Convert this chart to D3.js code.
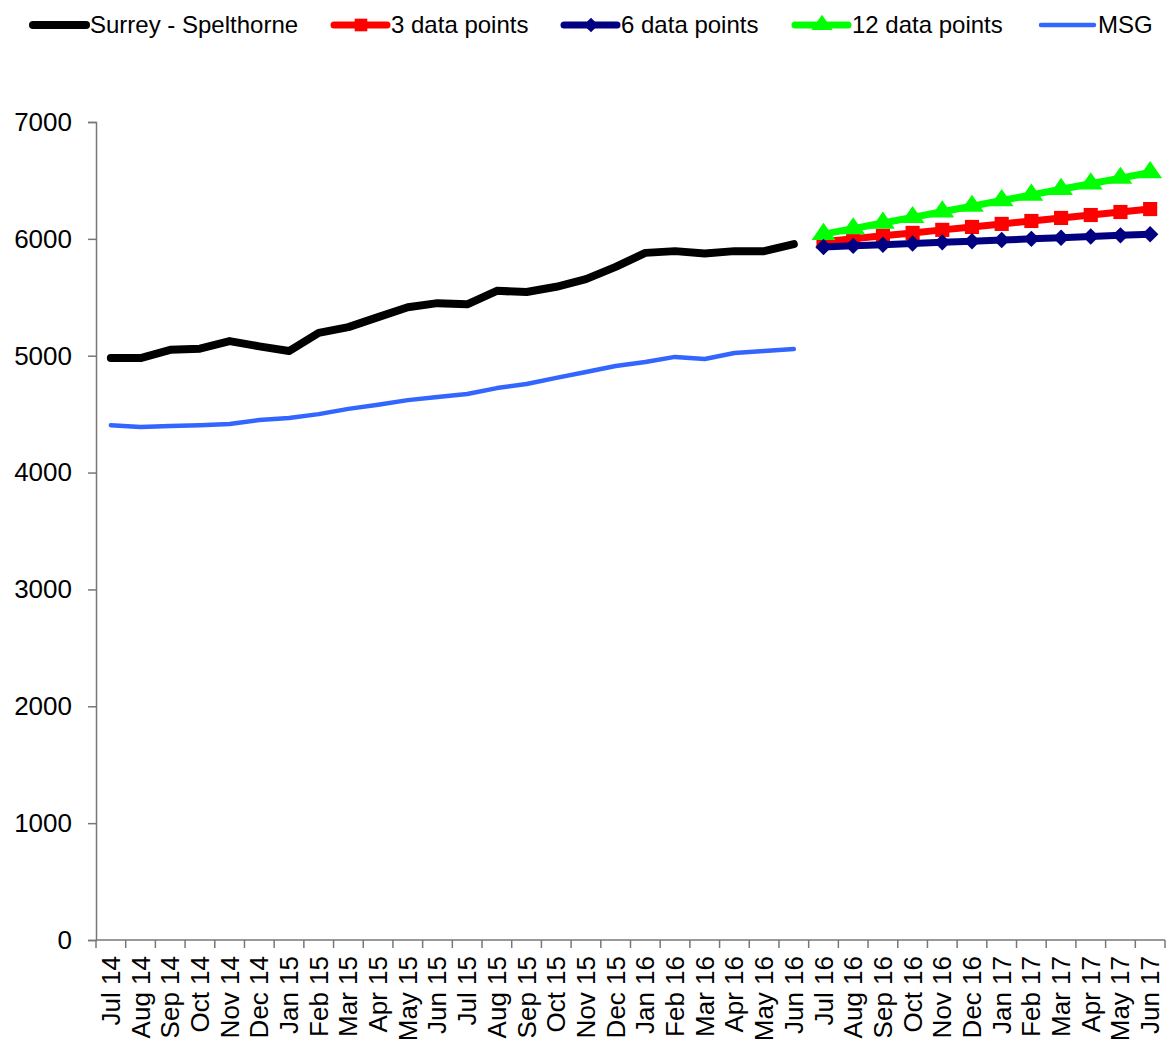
<!DOCTYPE html>
<html>
<head>
<meta charset="utf-8">
<script src="https://cdn.jsdelivr.net/npm/d3@7"></script>
<style>
  body { margin: 0; background: #fff; }
  text { font-family: "Liberation Sans", Arial, sans-serif; }
</style>
</head>
<body>
<script>
// months along the bottom
var months = ["Jul 14","Aug 14","Sep 14","Oct 14","Nov 14","Dec 14","Jan 15","Feb 15","Mar 15","Apr 15","May 15","Jun 15",
              "Jul 15","Aug 15","Sep 15","Oct 15","Nov 15","Dec 15","Jan 16","Feb 16","Mar 16","Apr 16","May 16","Jun 16",
              "Jul 16","Aug 16","Sep 16","Oct 16","Nov 16","Dec 16","Jan 17","Feb 17","Mar 17","Apr 17","May 17","Jun 17"];
var histMonths = months.slice(0, 24);
var foreMonths = months.slice(24);

var surrey = [4980,4980,5050,5060,5125,5080,5040,5195,5245,5330,5415,5450,
              5440,5555,5545,5590,5655,5760,5880,5895,5875,5895,5895,5955];
var msg = [4405,4390,4398,4405,4415,4450,4467,4500,4545,4580,4620,4647,
           4672,4723,4758,4810,4860,4912,4946,4990,4972,5023,5040,5057];
var pts3 = [5975,6000,6026,6051,6077,6102,6128,6153,6179,6204,6230,6255];
var pts6 = [5930,5940,5950,5960,5970,5980,5990,6000,6010,6020,6030,6040];
var pts12 = [6040,6088,6136,6184,6232,6280,6328,6376,6424,6472,6520,6568];
var yTicks = [0,1000,2000,3000,4000,5000,6000,7000];

var W = 1168, H = 1044;
var pLeft = 96, pRight = 1165, pTop = 122, pBottom = 940;

var svg = d3.select("body").append("svg")
    .attr("width", W)
    .attr("height", H);

var x = d3.scaleBand()
    .domain(months)
    .range([pLeft, pRight]);
var y = d3.scaleLinear()
    .domain([0, 7000])
    .range([pBottom, pTop]);

function cx(m) { return x(m) + x.bandwidth() / 2; }

// y axis
var yAxis = svg.append("g")
    .attr("transform", "translate(" + pLeft + ",0)")
    .call(d3.axisLeft(y).tickValues(yTicks).tickSize(8).tickPadding(16).tickFormat(d3.format("d")));
yAxis.select(".domain").attr("stroke", "#777").attr("stroke-width", 1.5);
yAxis.selectAll(".tick line").attr("stroke", "#777").attr("stroke-width", 1.5);
yAxis.selectAll("text").style("font-size", "26px").attr("fill", "#000")
    .style("font-family", "'Liberation Sans', Arial, sans-serif");

// x axis - ticks between categories
var xg = svg.append("g").attr("transform", "translate(0," + pBottom + ")");
xg.append("line").attr("x1", pLeft).attr("x2", pRight).attr("stroke", "#777").attr("stroke-width", 1.5);
xg.selectAll(".xt")
    .data(months.concat(["end"]))
  .enter().append("line")
    .attr("x1", function(d, i) { return pLeft + i * x.step(); })
    .attr("x2", function(d, i) { return pLeft + i * x.step(); })
    .attr("y1", 0).attr("y2", 8)
    .attr("stroke", "#777").attr("stroke-width", 1.5);
xg.selectAll(".xl")
    .data(months)
  .enter().append("text")
    .attr("transform", function(d) { return "translate(" + (cx(d) + 9) + ",16) rotate(-90)"; })
    .attr("text-anchor", "end")
    .style("font-size", "26px")
    .text(function(d) { return d; });

var line = d3.line()
    .x(function(d) { return cx(d.m); })
    .y(function(d) { return y(d.v); });

function pair(ms, vs) { return vs.map(function(v, i) { return {m: ms[i], v: v}; }); }

var msgData = pair(histMonths, msg);
var surreyData = pair(histMonths, surrey);
var d3pts = pair(foreMonths, pts3);
var d6pts = pair(foreMonths, pts6);
var d12pts = pair(foreMonths, pts12);

svg.append("path").datum(msgData).attr("d", line)
    .attr("fill", "none").attr("stroke", "#3366ff").attr("stroke-width", 4.5)
    .attr("stroke-linecap", "round").attr("stroke-linejoin", "round");
svg.append("path").datum(surreyData).attr("d", line)
    .attr("fill", "none").attr("stroke", "#000").attr("stroke-width", 8)
    .attr("stroke-linecap", "round").attr("stroke-linejoin", "round");

// marker shapes: square, diamond (rotated square), wide triangle
var markers = {
  square: { sym: d3.symbolSquare, size: 200, extra: "" },
  diamond: { sym: d3.symbolSquare, size: 135, extra: " rotate(45)" },
  triangle: { sym: d3.symbolTriangle, size: 170, extra: " scale(1.2,1)" }
};

function series(data, color, mk) {
  svg.append("path").datum(data).attr("d", line)
      .attr("fill", "none").attr("stroke", color).attr("stroke-width", 7)
      .attr("stroke-linejoin", "round");
  svg.selectAll(null).data(data).enter().append("path")
      .attr("transform", function(d) { return "translate(" + cx(d.m) + "," + y(d.v) + ")" + mk.extra; })
      .attr("d", d3.symbol().type(mk.sym).size(mk.size))
      .attr("fill", color);
}
series(d3pts, "#ff0000", markers.square);
series(d12pts, "#00ff00", markers.triangle);
series(d6pts, "#000080", markers.diamond);

// legend
var legend = [
  {name: "Surrey - Spelthorne", color: "#000", w: 8, mk: null, x: 30},
  {name: "3 data points", color: "#ff0000", w: 7, mk: markers.square, x: 331},
  {name: "6 data points", color: "#000080", w: 7, mk: markers.diamond, x: 561},
  {name: "12 data points", color: "#00ff00", w: 7, mk: markers.triangle, x: 792},
  {name: "MSG", color: "#3366ff", w: 4.5, mk: null, x: 1038}
];
var lg = svg.append("g");
legend.forEach(function(l) {
  lg.append("line").attr("x1", l.x + 3).attr("x2", l.x + 56).attr("y1", 25).attr("y2", 25)
      .attr("stroke", l.color).attr("stroke-width", l.w).attr("stroke-linecap", "round");
  if (l.mk) {
    lg.append("path").attr("transform", "translate(" + (l.x + 30) + ",25)" + l.mk.extra)
        .attr("d", d3.symbol().type(l.mk.sym).size(l.mk.size * 0.8)).attr("fill", l.color);
  }
  lg.append("text").attr("x", l.x + 60).attr("y", 33)
      .style("font-size", "24px").text(l.name);
});
</script>
</body>
</html>
